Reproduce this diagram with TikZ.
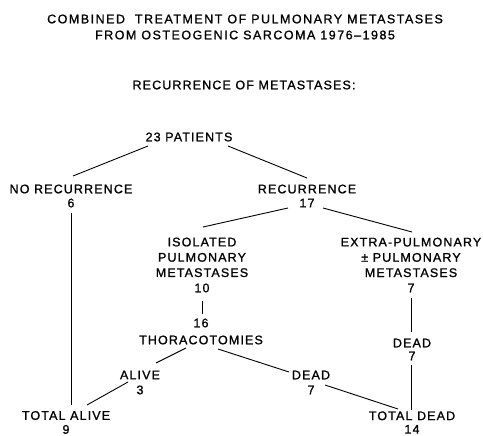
\documentclass[tikz,border=0pt]{standalone}
\usepackage{fontspec}
\setmainfont[LetterSpace=9,FakeBold=1.1]{Liberation Sans}
\newfontfamily\titlefont[LetterSpace=12,FakeBold=1.1]{Liberation Sans}
\usetikzlibrary{calc}
\begin{document}
\begin{tikzpicture}[x=1pt,y=-1pt,
  lbl/.style={inner sep=0pt,align=center,font=\fontsize{12.5}{15}\selectfont},
  conn/.style={line width=0.9pt}]
\useasboundingbox (0,0) rectangle (483,436);
\node[lbl,font=\titlefont\fontsize{12.5}{16}\selectfont] (title) at (245,27) {COMBINED\ \ TREATMENT OF PULMONARY METASTASES\\FROM OSTEOGENIC SARCOMA 1976–1985};
\node[lbl] (sub) at (244,85) {RECURRENCE OF METASTASES:};
\node[lbl] (pat) at (189,137) {23 PATIENTS};
\node[lbl,font=\fontsize{12.5}{14}\selectfont] (norec) at (71,196) {NO RECURRENCE\\6};
\node[lbl,font=\fontsize{12.5}{14}\selectfont] (rec) at (307,196) {RECURRENCE\\17};
\node[lbl,font=\fontsize{12.5}{15.3}\selectfont] (iso) at (202,265) {ISOLATED\\PULMONARY\\METASTASES\\10};
\node[lbl,font=\fontsize{12.5}{15.3}\selectfont] (extra) at (411,265) {EXTRA-PULMONARY\\± PULMONARY\\METASTASES\\7};
\node[lbl,font=\fontsize{12.5}{17}\selectfont] (thor) at (201,331.5) {16\\THORACOTOMIES};
\node[lbl,font=\fontsize{12.5}{13}\selectfont] (dead1) at (412,349.5) {DEAD\\7};
\node[lbl] (alive) at (140,382.5) {ALIVE\\3};
\node[lbl] (dead2) at (311,382.5) {DEAD\\7};
\node[lbl,font=\fontsize{12.5}{14}\selectfont] (talive) at (66,422.5) {TOTAL ALIVE\\9};
\node[lbl,font=\fontsize{12.5}{13.5}\selectfont] (tdead) at (412,422.5) {TOTAL DEAD\\14};
\draw[conn] ($(pat)+(-41,9)$) -- ($(norec)+(2,-20)$);
\draw[conn] ($(pat)+(39,9)$) -- ($(rec)+(0,-18)$);
\draw[conn] ($(rec)+(-19,12)$) -- ($(iso)+(1,-38)$);
\draw[conn] ($(rec)+(16,12)$) -- ($(extra)+(1,-33)$);
\draw[conn] ($(norec)+(0,17)$) -- ($(talive)+(5,-17.5)$);
\draw[conn] ($(iso)+(0,36)$) -- ($(thor)+(1,-17.5)$);
\draw[conn] ($(extra)+(0,33)$) -- ($(dead1)+(-1,-17.5)$);
\draw[conn] ($(dead1)+(-1,15.5)$) -- ($(tdead)+(-1,-13)$);
\draw[conn] ($(thor)+(-15,16.5)$) -- ($(alive)+(16,-19.5)$);
\draw[conn] ($(thor)+(17,17.5)$) -- ($(dead2)+(-22,-10.5)$);
\draw[conn] ($(alive)+(-12,-0.5)$) -- ($(talive)+(21,-17.5)$);
\draw[conn] ($(dead2)+(14,2.5)$) -- ($(tdead)+(-14,-13.5)$);
\end{tikzpicture}
\end{document}
